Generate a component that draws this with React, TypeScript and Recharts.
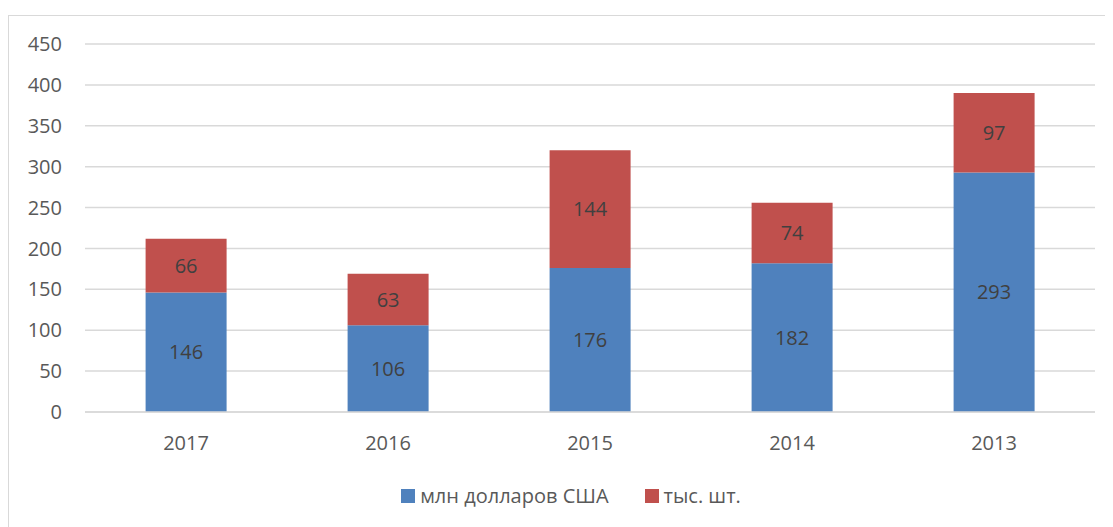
import React from "react";
import { BarChart, Bar, XAxis, YAxis, CartesianGrid, Legend, LabelList } from "recharts";

const years = ["2017", "2016", "2015", "2014", "2013"];
const usdMillions = [146, 106, 176, 182, 293];
const thousandUnits = [66, 63, 144, 74, 97];
const yTicks = [0, 50, 100, 150, 200, 250, 300, 350, 400, 450];

const seriesNames = { usd: "млн долларов США", units: "тыс. шт." };
const colors = { usd: "#4F81BD", units: "#C0504D" };

const data = years.map((y, i) => ({ year: y, usd: usdMillions[i], units: thousandUnits[i] }));

const FONT = "'Open Sans', 'Liberation Sans', sans-serif";

const LegendContent = () => (
  <div style={{ display: "flex", justifyContent: "center", alignItems: "center", fontFamily: FONT, fontSize: 20, color: "#595959", paddingLeft: 24 }}>
    {(["usd", "units"] as const).map((k, i) => (
      <div key={k} style={{ display: "flex", alignItems: "center", marginLeft: i === 0 ? 0 : 36 }}>
        <span style={{ display: "inline-block", width: 14, height: 14, background: colors[k], marginRight: 5 }} />
        <span>{seriesNames[k]}</span>
      </div>
    ))}
  </div>
);

export default function App() {
  return (
    <div style={{ marginTop: 7, width: 1104, height: 512, borderTop: "1px solid #d9d9d9", borderLeft: "1px solid #d9d9d9", background: "#fff" }}>
      <BarChart
        width={1100}
        height={510}
        data={data}
        margin={{ top: 28, right: 14, left: 0, bottom: 27 }}
        barCategoryGap="30%"
      >
        <CartesianGrid vertical={false} stroke="#d9d9d9" strokeWidth={1.5} />
        <XAxis
          dataKey="year"
          axisLine={{ stroke: "#d9d9d9", strokeWidth: 1.5 }}
          tickLine={false}
          tickSize={0}
          tickMargin={24}
          height={60}
          tick={{ fill: "#595959", fontSize: 20, fontFamily: FONT }}
        />
        <YAxis
          domain={[0, 450]}
          ticks={yTicks}
          width={76}
          axisLine={false}
          tickLine={false}
          tickSize={0}
          tickMargin={23}
          interval={0}
          tick={{ fill: "#595959", fontSize: 20, fontFamily: FONT }}
        />
        <Legend verticalAlign="bottom" content={<LegendContent />} wrapperStyle={{ top: 466, left: 0, width: 1100 }} />
        <Bar dataKey="usd" stackId="a" fill={colors.usd} isAnimationActive={false}>
          <LabelList dataKey="usd" position="center" fill="#404040" fontSize={20} fontFamily={FONT} />
        </Bar>
        <Bar dataKey="units" stackId="a" fill={colors.units} isAnimationActive={false}>
          <LabelList dataKey="units" position="center" fill="#404040" fontSize={20} fontFamily={FONT} />
        </Bar>
      </BarChart>
    </div>
  );
}
